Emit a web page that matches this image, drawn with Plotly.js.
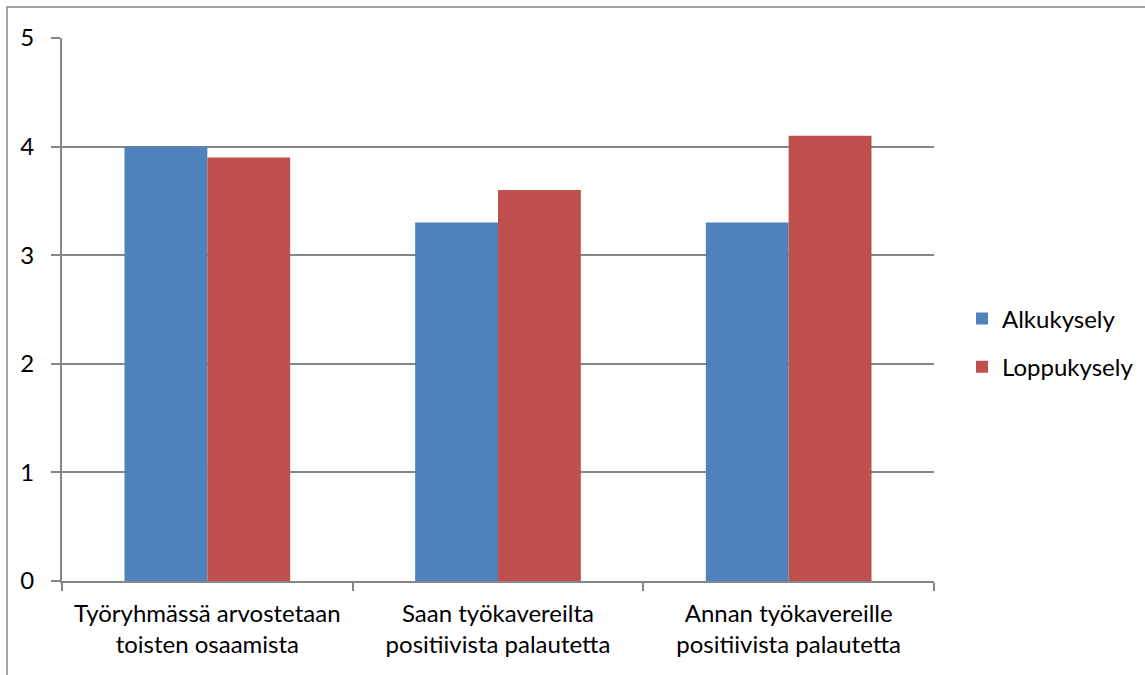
<!DOCTYPE html>
<html>
<head>
<meta charset="utf-8">
<script src="https://cdn.plot.ly/plotly-3.0.1.min.js"></script>
<style>html,body{margin:0;padding:0;background:#fff;}#chart{width:1145px;height:675px;}</style>
</head>
<body>
<div id="chart"></div>
<script>
var categories = ["Työryhmässä arvostetaan<br>toisten osaamista", "Saan työkavereilta<br>positiivista palautetta", "Annan työkavereille<br>positiivista palautetta"];
var alkukysely = [4.0, 3.3, 3.3];
var loppukysely = [3.9, 3.6, 4.1];
var seriesNames = ["Alkukysely", "Loppukysely"];
var yTicks = [0, 1, 2, 3, 4, 5];

var W = 1145, H = 675;
var mL = 62, mR = 211, mT = 38, mB = 94;
var pw = W - mL - mR, ph = H - mT - mB;
var fontFam = "Lato, 'Open Sans', sans-serif";
var axisCol = "#868686";

var traces = [
  {type: "bar", name: seriesNames[0], x: categories, y: alkukysely, marker: {color: "#4F81BD"}, legendgroup: "a", hoverinfo: "none"},
  {type: "bar", name: seriesNames[1], x: categories, y: loppukysely, marker: {color: "#C0504D"}, legendgroup: "b", hoverinfo: "none"}
];

var layout = {
  width: W, height: H,
  margin: {l: mL, r: mR, t: mT, b: mB, pad: 0, autoexpand: false},
  paper_bgcolor: "#fff", plot_bgcolor: "#fff",
  font: {family: fontFam, size: 24, color: "#000"},
  barmode: "group", bargap: 0.43, bargroupgap: 0,
  showlegend: true,
  legend: {xref: "container", yref: "container", x: 962 / W, y: 1 - 343 / H, xanchor: "left", yanchor: "middle", traceorder: "grouped", tracegroupgap: 14, font: {size: 24}, bgcolor: "rgba(0,0,0,0)"},
  xaxis: {
    type: "category", showline: true, linecolor: axisCol, linewidth: 2,
    ticks: "outside", tickson: "boundaries", ticklen: 8, tickcolor: axisCol, tickwidth: 2,
    showgrid: false, zeroline: false, fixedrange: true, ticklabelstandoff: 10,
    tickfont: {size: 24}, automargin: false
  },
  yaxis: {
    range: [0, 5], tickvals: yTicks, ticktext: yTicks.map(String),
    showline: true, linecolor: axisCol, linewidth: 2,
    ticks: "outside", ticklen: 9, tickcolor: axisCol, tickwidth: 2,
    showgrid: true, gridcolor: axisCol, gridwidth: 2, zeroline: false, fixedrange: true,
    ticklabelstandoff: 12, tickfont: {size: 24}, automargin: false
  },
  shapes: [{
    type: "rect", xref: "paper", yref: "paper",
    x0: (7 - mL) / pw, x1: (W + 20 - mL) / pw,
    y0: -(H + 20 - mT - ph) / ph, y1: 1 + (mT - 7) / ph,
    line: {color: axisCol, width: 1.5}, fillcolor: "rgba(0,0,0,0)", layer: "below"
  }]
};

Plotly.newPlot("chart", traces, layout, {displayModeBar: false, staticPlot: true});
</script>
</body>
</html>
